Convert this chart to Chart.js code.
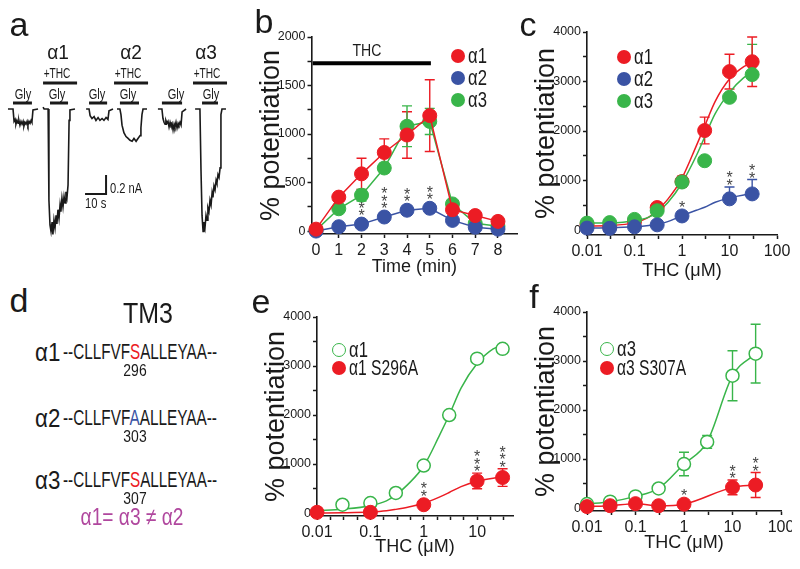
<!DOCTYPE html>
<html>
<head>
<meta charset="utf-8">
<title>THC potentiation of glycine receptors</title>
<script src="https://cdn.jsdelivr.net/npm/chart.js@4.4.1/dist/chart.umd.min.js"></script>
<style>
  body { margin: 0; background: #fff; }
  #fig { position: relative; width: 800px; height: 569px; overflow: hidden; color: #1a1a1a;
         font-family: "Liberation Sans", Arial, sans-serif; }
  #fig canvas { position: absolute; }
  .t { position: absolute; white-space: nowrap; line-height: 1; }
  .dot { position: absolute; border-radius: 50%; box-sizing: border-box; }
</style>
</head>
<body>
<div id="fig">
  <canvas id="traces" width="260" height="210" style="left:0;top:40px"></canvas>
  <canvas id="timeChart" width="272" height="258" style="left:255px;top:20px"></canvas>
  <canvas id="doseChart" width="262" height="267" style="left:530px;top:15px"></canvas>
  <canvas id="s296Chart" width="265" height="258" style="left:260px;top:300px"></canvas>
  <canvas id="s307Chart" width="262" height="259" style="left:530px;top:295px"></canvas>
</div>
<script>
const RED = '#ec1c24', BLUE = '#3a53a4', GREEN = '#39b54a', INK = '#1a1a1a', STAR = '#444';

// ---- panel a: current traces, [time (s), current (nA)] ----
const traceA1Gly = [[3.8,0],[6.2,0],[6.7,-0.13],[7.2,-0.11],[7.6,-0.16],[8.1,-0.12],[8.6,-0.15],[9.0,-0.12],[9.5,-0.17],[10.0,-0.13],[10.5,-0.16],[11.0,-0.13],[11.4,-0.18],[11.9,-0.14],[12.4,-0.16],[12.9,-0.13],[13.3,-0.17],[13.8,-0.13],[14.3,-0.15],[14.8,-0.12],[15.2,-0.14],[15.7,-0.01],[18.1,0]];
const traceA1Thc = [[20.5,0.02],[21,0],[22.9,0],[23.3,-0.96],[23.8,-1.22],[24.3,-1.29],[24.8,-1.19],[25.2,-1.32],[25.7,-1.17],[26.2,-1.25],[26.7,-1.12],[27.1,-1.21],[27.6,-1.06],[28.1,-1.15],[28.6,-1.01],[29,-1.08],[29.5,-0.94],[30,-1.03],[30.5,-0.92],[31,-0.99],[31.4,-0.87],[31.9,-0.93],[32.4,-0.8],[32.9,-0.12],[33.3,-0.01],[35.7,0]];
const traceA2Gly = [[41,0],[42.4,0],[42.9,-0.07],[43.8,-0.1],[44.8,-0.08],[45.7,-0.12],[46.7,-0.09],[47.6,-0.12],[48.6,-0.1],[49.5,-0.12],[50.5,-0.09],[51.4,-0.11],[51.9,-0.02],[53.8,0]];
const traceA2Thc = [[55.7,0],[57.1,0],[57.6,-0.06],[58.1,-0.17],[59,-0.25],[60,-0.29],[61,-0.31],[61.9,-0.33],[62.9,-0.34],[63.8,-0.31],[64.8,-0.34],[65.7,-0.31],[66.7,-0.28],[67.1,-0.2],[67.6,-0.06],[68.1,0],[70,0]];
const traceA3Gly = [[75.2,0],[77.1,0],[77.6,-0.1],[78.1,-0.14],[78.6,-0.16],[79.0,-0.12],[79.5,-0.15],[80.0,-0.13],[80.5,-0.19],[81.0,-0.14],[81.4,-0.17],[81.9,-0.15],[82.4,-0.22],[82.9,-0.16],[83.3,-0.19],[83.8,-0.14],[84.3,-0.2],[84.8,-0.15],[85.2,-0.17],[85.7,-0.14],[86.2,-0.17],[86.7,-0.03],[88.6,0]];
const traceA3Thc = [[92.9,0],[95.2,0],[95.7,-0.64],[96.2,-1.12],[96.7,-1.29],[97.1,-1.19],[97.6,-1.25],[98.1,-1.12],[98.6,-1.17],[99,-1.04],[99.5,-1.08],[100,-0.96],[100.5,-1.01],[101,-0.88],[101.4,-0.93],[101.9,-0.81],[102.4,-0.85],[102.9,-0.75],[103.3,-0.78],[103.8,-0.69],[104.3,-0.72],[104.8,-0.62],[105.2,-0.06],[105.7,0],[107.6,0]];
const glyBars = [[6.2,15.2],[23.8,32.4],[42.4,51],[57.1,66.2],[77.1,86.7],[96.2,103.8]];
const thcBars = [[20.5,36.7],[54.3,70.5],[91.9,108.1]];
const scaleBar = [[40.5,-0.895],[50.5,-0.895],[50.5,-0.695]]; // 10 s, 0.2 nA

// ---- panel b: time course ----
const timeMin = [0, 1, 2, 3, 4, 5, 6, 7, 8];
const timeA1 = [20, 350, 590, 810, 990, 1190, 220, 160, 100];
const timeA1Err = [0, 40, 160, 140, 240, 370, 0, 0, 0];
const timeA2 = [0, 45, 72, 145, 215, 235, 110, 40, 20];
const timeA3 = [10, 230, 370, 650, 1080, 1130, 280, 80, 50];
const timeA3Err = [0, 0, 60, 50, 210, 135, 0, 0, 0];
const timeStars = ['', '', '**', '***', '**', '**', '', '', ''];
const thcApplied = [[-0.15, 1730], [5.05, 1730]];
const timeTicks = [0, 1, 2, 3, 4, 5, 6, 7, 8];
const timeTickText = ['0', '1', '2', '3', '4', '5', '6', '7', '8'];
const potB = [0, 250, 500, 750, 1000, 1250, 1500, 1750, 2000];
const potBText = ['0', '', '500', '', '1000', '', '1500', '', '2000'];

// ---- panel c: concentration response ----
const conc = [0.01, 0.03, 0.1, 0.3, 1, 3, 10, 30];
const doseA1 = [110, 70, 170, 455, 980, 2010, 3200, 3400];
const doseA1Err = [0, 0, 0, 40, 110, 270, 350, 500];
const doseA2Conc = [0.01, 0.03, 0.1, 0.3, 1, 10, 30];
const doseA2 = [40, 35, 65, 105, 285, 630, 730];
const doseA2Up = [0, 0, 0, 0, 0, 240, 290];
const doseA2Down = [0, 0, 0, 0, 0, 0, 0];
const doseA2Stars = ['', '', '', '', '*', '**', '**'];
const doseA3 = [140, 150, 215, 390, 970, 1400, 2680, 3140];
const doseA3Up = [0, 0, 0, 0, 0, 0, 0, 610];
const doseA3Down = [0, 0, 0, 0, 0, 0, 0, 0];
const fitConc = [0.01, 0.03, 0.1, 0.2, 0.3, 0.5, 1, 2, 3, 5, 10, 20, 30];
const fitA1 = [80, 90, 150, 260, 400, 620, 1050, 1700, 2100, 2600, 3050, 3300, 3380];
const fitA3 = [140, 145, 190, 260, 360, 550, 950, 1500, 1880, 2350, 2780, 3080, 3180];
const fitA2 = [40, 45, 65, 90, 115, 170, 290, 400, 460, 560, 650, 710, 730];

// ---- panel e: alpha1 vs S296A ----
const eWtConc = [0.03, 0.1, 0.3, 1, 3, 10, 30];
const eWt = [170, 205, 410, 970, 2000, 3150, 3350];
const eMutConc = [0.01, 0.1, 1, 10, 30];
const eMut = [15, 15, 170, 655, 725];
const eMutErr = [0, 0, 0, 160, 180];
const eMutStars = ['', '', '**', '***', '***'];
const eFitWt = [50, 80, 150, 250, 370, 580, 960, 1600, 2000, 2550, 3050, 3350, 3420];
const eFitMut = [0, 5, 20, 45, 75, 120, 200, 330, 420, 540, 650, 710, 730];

// ---- panel f: alpha3 vs S307A ----
const fWt = [82, 130, 238, 400, 898, 1350, 2700, 3150];
const fWtErr = [0, 0, 0, 0, 240, 130, 510, 600];
const fMutConc = [0.01, 0.03, 0.1, 0.3, 1, 10, 30];
const fMut = [30, 48, 90, 48, 80, 422, 470];
const fMutErr = [0, 0, 0, 0, 0, 150, 255];
const fMutStars = ['', '', '', '', '*', '**', '**'];

const logTicks = [0.01, 0.0316, 0.1, 0.316, 1, 3.16, 10, 31.6, 100];
const logTickText = ['0.01', '', '0.1', '', '1', '', '10', '', '100'];
const logTicksE = [0.01, 0.0178, 0.0316, 0.0562, 0.1, 0.178, 0.316, 0.562, 1, 1.78, 3.16, 5.62, 10, 17.8, 31.6];
const logTickTextE = ['0.01', '', '', '', '0.1', '', '', '', '1', '', '', '', '10', '', ''];
const potTicks = [0, 500, 1000, 1500, 2000, 2500, 3000, 3500, 4000];
const potTickText = ['0', '', '1000', '', '2000', '', '3000', '', '4000'];

Chart.defaults.font.family = '"Liberation Sans", sans-serif';
Chart.defaults.color = INK;
Chart.defaults.animation = false;
Chart.defaults.plugins.legend.display = false;
Chart.defaults.plugins.tooltip.enabled = false;

function pts(xs, ys) { return xs.map((x, i) => ({ x: x, y: ys[i] })); }

function boxFit(w, h) {
  return s => {
    if (w) s.width = w;
    if (h) s.height = h;
    s.paddingLeft = s.paddingRight = s.paddingTop = s.paddingBottom = 0;
  };
}

function axis(o) {
  return {
    type: o.type || 'linear',
    min: o.min, max: o.max,
    afterBuildTicks: s => { s.ticks = o.ticks.map(v => ({ value: v })); },
    afterFit: boxFit(o.width, o.height),
    grid: { drawOnChartArea: false, drawTicks: true, tickLength: 4, tickWidth: 1.5, tickColor: INK },
    border: { display: true, color: INK, width: 1.6 },
    ticks: { autoSkip: false, maxRotation: 0, padding: o.pad, color: INK,
             font: { size: o.tickSize }, callback: (v, i) => o.labels[i] },
    title: { display: true, text: o.title, padding: 0, color: INK, font: o.titleFont }
  };
}
const yTitleFont = { size: 27 };
const xTitleFont = { size: 18 };

function series(data, color, extra) {
  return Object.assign({
    data: data, showLine: true, borderColor: color, borderWidth: 1.5,
    pointRadius: 7, pointBackgroundColor: color, pointBorderColor: color, pointBorderWidth: 1,
    clip: false
  }, extra);
}
function openSeries(data, color, extra) {
  return series(data, color, Object.assign({ pointBackgroundColor: '#fff', pointBorderWidth: 1.5, pointRadius: 6.5 }, extra));
}
function curve(data, color) {
  return { data: data, showLine: true, borderColor: color, borderWidth: 1.5, pointRadius: 0,
           cubicInterpolationMode: 'monotone', clip: false };
}

// error bars under the points, asterisks above
const errStars = {
  id: 'errStars',
  beforeDatasetsDraw(chart) {
    const ctx = chart.ctx, ys = chart.scales.y;
    chart.data.datasets.forEach((ds, di) => {
      if (!ds.errUp) return;
      const meta = chart.getDatasetMeta(di);
      ctx.save();
      ctx.strokeStyle = ds.pointBorderColor;
      ctx.lineWidth = 1.4;
      meta.data.forEach((el, i) => {
        const up = ds.errUp[i], dn = ds.errDown ? ds.errDown[i] : up;
        if (!up && !dn) return;
        const v = ds.data[i].y;
        const y1 = ys.getPixelForValue(v + up), y2 = ys.getPixelForValue(v - dn);
        ctx.beginPath();
        ctx.moveTo(el.x, y1); ctx.lineTo(el.x, y2);
        if (up) { ctx.moveTo(el.x - 5, y1); ctx.lineTo(el.x + 5, y1); }
        if (dn) { ctx.moveTo(el.x - 5, y2); ctx.lineTo(el.x + 5, y2); }
        ctx.stroke();
      });
      ctx.restore();
    });
  },
  afterDatasetsDraw(chart) {
    const ctx = chart.ctx, ys = chart.scales.y;
    chart.data.datasets.forEach((ds, di) => {
      if (!ds.stars) return;
      const meta = chart.getDatasetMeta(di);
      ctx.save();
      ctx.fillStyle = STAR;
      ctx.font = '16px "Liberation Sans", sans-serif';
      ctx.textAlign = 'center';
      ctx.textBaseline = 'alphabetic';
      meta.data.forEach((el, i) => {
        const n = ds.stars[i].length;
        if (!n) return;
        let top = el.y - ds.pointRadius;
        if (ds.errUp && ds.errUp[i]) top = Math.min(top, ys.getPixelForValue(ds.data[i].y + ds.errUp[i]));
        for (let k = 0; k < n; k++) {
          const cy = top - 5 - k * 7.5;
          ctx.fillText('*', el.x, cy + 9);
        }
      });
      ctx.restore();
    });
  }
};

// ---- a ----
const traceSets = [traceA1Gly, traceA1Thc, traceA2Gly, traceA2Thc, traceA3Gly, traceA3Thc].map(d => ({
  data: d, showLine: true, borderColor: INK, borderWidth: 1.6, pointRadius: 0
}));
const glySets = glyBars.map(b => ({ data: [[b[0], 0.063], [b[1], 0.063]], showLine: true, borderColor: INK, borderWidth: 3, pointRadius: 0 }));
const thcSets = thcBars.map(b => ({ data: [[b[0], 0.274], [b[1], 0.274]], showLine: true, borderColor: INK, borderWidth: 3, pointRadius: 0 }));
new Chart(document.getElementById('traces'), {
  type: 'scatter',
  data: { datasets: traceSets.concat(glySets, thcSets, [{ data: scaleBar, showLine: true, borderColor: INK, borderWidth: 2, pointRadius: 0 }]) },
  options: {
    responsive: false,
    layout: { padding: 0 },
    scales: {
      x: { type: 'linear', display: false, min: 0, max: 123.8 },
      y: { type: 'linear', display: false, min: -1.484, max: 0.726 }
    }
  }
});

// ---- b ----
new Chart(document.getElementById('timeChart'), {
  type: 'scatter',
  data: { datasets: [
    series(pts(timeMin, timeA1), RED, { errUp: timeA1Err }),
    series(pts(timeMin, timeA2), BLUE, { stars: timeStars }),
    series(pts(timeMin, timeA3), GREEN, { errUp: timeA3Err }),
    { data: thcApplied, showLine: true, borderColor: '#000', borderWidth: 4, pointRadius: 0, clip: false }
  ] },
  options: {
    responsive: false,
    layout: { padding: { left: 0, top: 17, right: 9.7, bottom: 0 } },
    scales: {
      x: axis({ min: -0.2, max: 8.85, ticks: timeTicks, labels: timeTickText, title: 'Time (min)',
                height: 44, tickSize: 16, pad: 3, titleFont: xTitleFont }),
      y: axis({ min: -30, max: 2000, ticks: potB, labels: potBText, title: '% potentiation',
                width: 56.5, tickSize: 12.5, pad: 2, titleFont: yTitleFont })
    }
  },
  plugins: [errStars]
});

// ---- c ----
new Chart(document.getElementById('doseChart'), {
  type: 'scatter',
  data: { datasets: [
    series(pts(doseA2Conc, doseA2), BLUE, { showLine: false, errUp: doseA2Up, errDown: doseA2Down, stars: doseA2Stars }),
    series(pts(conc, doseA3), GREEN, { showLine: false, errUp: doseA3Up, errDown: doseA3Down }),
    series(pts(conc, doseA1), RED, { showLine: false, errUp: doseA1Err }),
    curve(pts(fitConc, fitA2), BLUE),
    curve(pts(fitConc, fitA3), GREEN),
    curve(pts(fitConc, fitA1), RED)
  ] },
  options: {
    responsive: false,
    layout: { padding: { left: 0, top: 17, right: 15, bottom: 0 } },
    scales: {
      x: axis({ type: 'logarithmic', min: 0.01, max: 100, ticks: logTicks, labels: logTickText, title: 'THC (μM)',
                height: 47, tickSize: 16, pad: 3, titleFont: xTitleFont }),
      y: axis({ min: -100, max: 4000, ticks: potTicks, labels: potTickText, title: '% potentiation',
                width: 57, tickSize: 12.5, pad: 2, titleFont: yTitleFont })
    }
  },
  plugins: [errStars]
});

// ---- e ----
new Chart(document.getElementById('s296Chart'), {
  type: 'scatter',
  data: { datasets: [
    series(pts(eMutConc, eMut), RED, { showLine: false, errUp: eMutErr, stars: eMutStars }),
    openSeries(pts(eWtConc, eWt), GREEN, { showLine: false }),
    curve(pts(fitConc, eFitMut), RED),
    curve(pts(fitConc, eFitWt), GREEN)
  ] },
  options: {
    responsive: false,
    layout: { padding: { left: 0, top: 17, right: 12, bottom: 0 } },
    scales: {
      x: axis({ type: 'logarithmic', min: 0.01, max: 47, ticks: logTicksE, labels: logTickTextE, title: 'THC (μM)',
                height: 42, tickSize: 16, pad: 3, titleFont: xTitleFont }),
      y: axis({ min: -60, max: 4000, ticks: potTicks, labels: potTickText, title: '% potentiation',
                width: 57, tickSize: 12.5, pad: 2, titleFont: yTitleFont })
    }
  },
  plugins: [errStars]
});

// ---- f ----
new Chart(document.getElementById('s307Chart'), {
  type: 'scatter',
  data: { datasets: [
    series(pts(fMutConc, fMut), RED, { errUp: fMutErr, stars: fMutStars, cubicInterpolationMode: 'monotone' }),
    openSeries(pts(conc, fWt), GREEN, { errUp: fWtErr, cubicInterpolationMode: 'monotone' })
  ] },
  options: {
    responsive: false,
    layout: { padding: { left: 0, top: 17, right: 11, bottom: 0 } },
    scales: {
      x: axis({ type: 'logarithmic', min: 0.01, max: 100, ticks: logTicks, labels: logTickText, title: 'THC (μM)',
                height: 43, tickSize: 16, pad: 3, titleFont: xTitleFont }),
      y: axis({ min: -60, max: 4000, ticks: potTicks, labels: potTickText, title: '% potentiation',
                width: 57, tickSize: 12.5, pad: 2, titleFont: yTitleFont })
    }
  },
  plugins: [errStars]
});

// ---- text ----
const fig = document.getElementById('fig');
function text(html, x, y, size, o) {
  o = o || {};
  const el = document.createElement('div');
  el.className = 't';
  el.innerHTML = html;
  el.style.left = x + 'px';
  el.style.top = y + 'px';
  el.style.fontSize = size + 'px';
  if (o.color) el.style.color = o.color;
  fig.appendChild(el);
  const sx = o.width ? o.width / el.offsetWidth : 1;
  el.style.transformOrigin = o.left ? 'left center' : 'center center';
  el.style.transform = 'translate(' + (o.left ? '0' : '-50%') + ',-50%) scaleX(' + sx + ')';
  return el;
}
function legendItem(x, y, color, label, width, open) {
  const d = document.createElement('div');
  d.className = 'dot';
  d.style.left = (x - 7) + 'px';
  d.style.top = (y - 7) + 'px';
  d.style.width = d.style.height = '14px';
  d.style.background = open ? '#fff' : color;
  if (open) d.style.border = '1.5px solid ' + color;
  fig.appendChild(d);
  text(label, x + 10, y, 22, { left: true, width: width });
}

// panel letters
[['a', 19, 24], ['b', 264, 20.5], ['c', 528, 24], ['d', 19, 300], ['e', 261, 301], ['f', 534, 296]]
  .forEach(p => text(p[0], p[1], p[2], 34));

// a labels
const subunits = ['α1', 'α2', 'α3'];
[58, 131, 206].forEach((x, i) => text(subunits[i], x, 52, 20, { width: 22 }));
[57, 128, 207].forEach(x => text('+THC', x, 72, 15, { width: 27 }));
[23, 57, 97, 128, 176, 211].forEach(x => text('Gly', x, 93, 15, { width: 17 }));
text('0.2 nA', 110, 187, 15, { left: true, width: 32 });
text('10 s', 85, 202, 15, { left: true, width: 21 });

// b, c legends
text('THC', 367, 50, 17, { width: 29 });
const legendColors = [RED, BLUE, GREEN];
[56, 78, 100].forEach((y, i) => legendItem(458, y, legendColors[i], subunits[i], 19));
[57, 79, 101].forEach((y, i) => legendItem(624, y, legendColors[i], subunits[i], 19));

// e, f legends
legendItem(339, 350, GREEN, 'α1', 19, true);
legendItem(339, 368, RED, 'α1 S296A', 69);
legendItem(607, 349, GREEN, 'α3', 19, true);
legendItem(607, 368, RED, 'α3 S307A', 69);

// d: TM3 alignment
text('TM3', 148, 313, 30, { width: 50 });
const rows = [
  { name: 'α1', res: 'S', color: RED, num: '296', y: 352 },
  { name: 'α2', res: 'A', color: BLUE, num: '303', y: 418 },
  { name: 'α3', res: 'S', color: RED, num: '307', y: 480 }
];
rows.forEach(r => {
  text(r.name, 35, r.y, 25, { left: true, width: 25 });
  text('--CLLFVF<span style="color:' + r.color + '">' + r.res + '</span>ALLEYAA--', 63, r.y, 22, { left: true, width: 154 });
  text(r.num, 135, r.y + 18, 17, { width: 23 });
});
text('α1= α3 ≠ α2', 132, 517, 24, { width: 103, color: '#b0479e' });
</script>
</body>
</html>
